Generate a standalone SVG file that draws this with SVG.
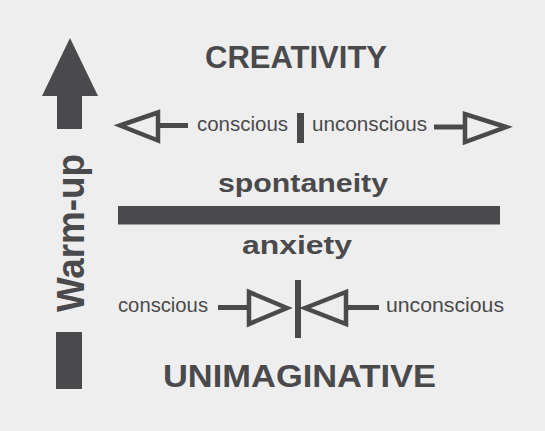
<svg xmlns="http://www.w3.org/2000/svg" width="545" height="431" viewBox="0 0 545 431">
<style>
.t{font-family:"Liberation Sans",Arial,sans-serif;fill:#4a4a4c}
.b{font-weight:bold}
.f{fill:#4a4a4c}
.h{fill:none;stroke:#4a4a4c;stroke-width:4.5;stroke-linejoin:miter}
</style>
<rect width="545" height="431" fill="#eeeeee"/>
<g id="warmup">
<polygon class="f" points="70,38 98,96 82,96 82,129 57,129 57,96 42,96"/>
<rect class="f" x="56" y="332" width="26" height="57"/>
<text class="t b" transform="translate(84,312) rotate(-90)" font-size="38" textLength="158" lengthAdjust="spacingAndGlyphs">Warm-up</text>
</g>
<g id="creativity">
<text class="t b" x="205" y="68" font-size="32" textLength="182" lengthAdjust="spacingAndGlyphs">CREATIVITY</text>
</g>
<g id="top-conscious">
<text class="t" x="197" y="131" font-size="20" textLength="91" lengthAdjust="spacingAndGlyphs">conscious</text>
</g>
<g id="top-divider">
<rect class="f" x="297" y="113" width="7" height="30"/>
</g>
<g id="top-unconscious">
<text class="t" x="312" y="131" font-size="20" textLength="115" lengthAdjust="spacingAndGlyphs">unconscious</text>
</g>
<g id="spontaneity">
<text class="t b" x="218" y="192" font-size="25" textLength="170" lengthAdjust="spacingAndGlyphs">spontaneity</text>
</g>
<g id="bar">
<rect class="f" x="118" y="206" width="382" height="18.5"/>
</g>
<g id="anxiety">
<text class="t b" x="242" y="254" font-size="25" textLength="110" lengthAdjust="spacingAndGlyphs">anxiety</text>
</g>
<g id="bottom-conscious">
<text class="t" x="118" y="312" font-size="20" textLength="90" lengthAdjust="spacingAndGlyphs">conscious</text>
</g>
<g id="bottom-divider">
<rect class="f" x="295" y="280" width="6" height="58"/>
</g>
<g id="bottom-unconscious">
<text class="t" x="386" y="312" font-size="20" textLength="118" lengthAdjust="spacingAndGlyphs">unconscious</text>
</g>
<g id="unimaginative">
<text class="t b" x="163" y="387" font-size="32" textLength="273" lengthAdjust="spacingAndGlyphs">UNIMAGINATIVE</text>
</g>
<g id="connectors">
<rect class="f" x="158" y="123" width="30" height="5"/>
<polygon class="h" points="120,125.5 158,112.5 158,140.5"/>
<rect class="f" x="434" y="124.5" width="31" height="5"/>
<polygon class="h" points="506,127 465,114 465,142"/>
<rect class="f" x="218" y="305" width="30" height="5"/>
<polygon class="h" points="287,308 249,292 249,324"/>
<rect class="f" x="344" y="305" width="35" height="5"/>
<polygon class="h" points="305,308 346,292 346,324"/>
</g>
</svg>
